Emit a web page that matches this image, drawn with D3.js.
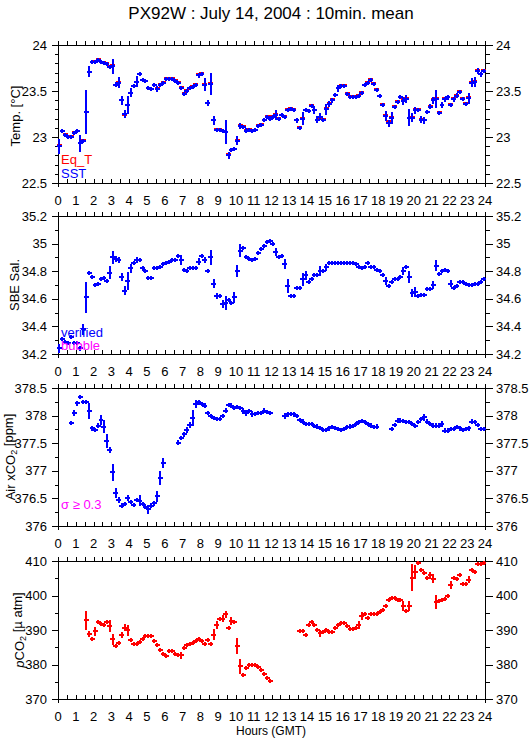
<!DOCTYPE html>
<html>
<head>
<meta charset="utf-8">
<script src="https://cdn.jsdelivr.net/npm/d3@7"></script>
<style>
body { margin: 0; background: #fff; }
svg text { font-family: "Liberation Sans", Arial, Helvetica, sans-serif; }
</style>
</head>
<body>
<div id="chart"></div>
<script>
// PX92W 10 min means, 144 bins per day (index i -> bin i of the day)
var title = "PX92W : July 14, 2004 : 10min. mean";

// Temperature (deg C)
var sst = [
  22.90,23.06,23.02,23.00,23.00,23.04,23.06,22.93,22.96,23.27,23.71,23.81,
  23.82,23.84,23.81,23.80,23.79,23.76,23.77,23.57,23.59,23.40,23.25,23.35,
  23.48,23.55,23.60,23.68,23.62,23.61,23.53,23.52,23.56,23.52,23.57,23.59,
  23.63,23.63,23.63,23.61,23.59,23.53,23.47,23.50,23.53,23.54,23.57,23.67,
  23.69,23.57,23.37,23.58,23.18,23.08,23.08,23.06,23.05,22.80,22.86,22.87,
  22.96,23.12,23.11,23.07,23.08,23.07,23.08,23.12,23.13,23.18,23.22,23.20,
  23.22,23.24,23.20,23.24,23.22,23.29,23.30,23.29,23.18,23.10,23.20,23.29,
  23.28,23.34,23.29,23.19,23.22,23.19,23.30,23.36,23.40,23.46,23.53,23.55,
  23.55,23.47,23.44,23.44,23.44,23.45,23.48,23.56,23.59,23.62,23.58,23.51,
  23.45,23.35,23.23,23.15,23.21,23.33,23.38,23.43,23.39,23.41,23.21,23.21,
  23.29,23.29,23.19,23.18,23.27,23.33,23.40,23.41,23.26,23.35,23.41,23.43,
  23.35,23.41,23.45,23.49,23.41,23.36,23.42,23.59,23.60,23.72,23.68,23.72
];
var sstSd = [
  0.08,0.02,0.02,0.02,0.015,0.015,0.015,0.09,0.02,0.24,0.06,0.01,
  0.01,0.01,0.01,0.01,0.01,0.015,0.08,0.03,0.06,0.05,0.045,0.1,
  0.05,0.015,0.06,0.01,0.01,0.01,0.01,0.015,0.01,0.035,0.015,0.01,
  0.01,0.01,0.01,0.01,0.015,0.02,0.015,0.015,0.01,0.01,0.015,0.03,
  0.015,0.07,0.035,0.12,0.05,0.015,0.015,0.015,0.13,0.035,0.02,0.015,
  0.05,0.035,0.015,0.03,0.015,0.015,0.015,0.015,0.02,0.02,0.015,0.02,
  0.015,0.05,0.02,0.015,0.015,0.02,0.015,0.02,0.03,0.025,0.07,0.015,
  0.015,0.02,0.045,0.04,0.04,0.02,0.06,0.03,0.025,0.015,0.04,0.015,
  0.02,0.02,0.015,0.01,0.01,0.015,0.02,0.015,0.015,0.015,0.02,0.015,
  0.015,0.025,0.055,0.04,0.065,0.02,0.025,0.02,0.045,0.045,0.09,0.05,
  0.035,0.02,0.035,0.035,0.02,0.03,0.04,0.1,0.02,0.035,0.03,0.03,
  0.02,0.03,0.03,0.015,0.015,0.02,0.06,0.05,0.055,0.03,0.03,0.015
];
var eqT = [
  22.91,23.07,23.03,23.01,23.01,23.05,23.07,22.94,22.97,23.27,23.71,23.82,
  23.83,23.85,23.81,23.81,23.80,23.77,23.78,23.57,23.60,23.40,23.24,23.35,
  23.48,23.55,23.60,23.68,23.62,23.61,23.53,23.52,23.57,23.53,23.58,23.60,
  23.64,23.64,23.64,23.62,23.60,23.54,23.48,23.51,23.53,23.55,23.58,23.68,
  23.70,23.58,23.37,23.59,23.18,23.09,23.09,23.06,23.05,22.81,22.86,22.87,
  22.97,23.13,23.12,23.08,23.09,23.08,23.08,23.13,23.14,23.19,23.23,23.21,
  23.23,23.25,23.21,23.24,23.23,23.30,23.31,23.30,23.18,23.11,23.21,23.29,
  23.28,23.35,23.29,23.19,23.21,23.20,23.31,23.37,23.41,23.46,23.53,23.56,
  23.56,23.48,23.45,23.45,23.44,23.46,23.49,23.56,23.60,23.63,23.59,23.52,
  23.45,23.36,23.24,23.17,23.22,23.34,23.39,23.44,23.41,23.42,23.21,23.22,
  23.30,23.30,23.20,23.19,23.27,23.34,23.41,23.42,23.27,23.35,23.42,23.44,
  23.36,23.42,23.46,23.50,23.42,23.37,23.43,23.60,23.61,23.73,23.68,23.73
];

// SBE salinity
var sal = [
  34.24,34.31,34.29,34.28,34.32,34.28,34.28,34.24,34.38,34.61,34.79,34.76,
  34.70,34.71,34.74,34.75,34.73,34.79,34.90,34.89,34.88,34.76,34.66,34.73,
  34.82,34.86,34.88,34.88,34.82,34.80,34.75,34.75,34.82,34.82,34.83,34.85,
  34.86,34.87,34.88,34.88,34.91,34.88,34.81,34.80,34.82,34.82,34.82,34.87,
  34.91,34.88,34.80,34.90,34.71,34.62,34.62,34.56,34.57,34.59,34.57,34.61,
  34.80,34.95,34.97,34.90,34.89,34.88,34.89,34.93,34.96,34.98,35.01,35.02,
  35.00,34.94,34.90,34.91,34.85,34.69,34.62,34.62,34.68,34.68,34.74,34.77,
  34.72,34.74,34.77,34.77,34.80,34.80,34.83,34.86,34.86,34.86,34.86,34.86,
  34.86,34.86,34.86,34.86,34.85,34.83,34.82,34.83,34.86,34.83,34.83,34.81,
  34.80,34.77,34.73,34.69,34.72,34.74,34.74,34.76,34.80,34.83,34.76,34.64,
  34.65,34.62,34.63,34.63,34.67,34.67,34.70,34.84,34.78,34.80,34.81,34.80,
  34.71,34.68,34.69,34.72,34.72,34.71,34.70,34.70,34.71,34.71,34.72,34.74
];
var salSd = [
  0.03,0.015,0.01,0.015,0.01,0.01,0.01,0.02,0.04,0.11,0.015,0.01,
  0.01,0.01,0.01,0.01,0.01,0.05,0.045,0.02,0.02,0.03,0.03,0.065,
  0.035,0.01,0.02,0.01,0.02,0.01,0.01,0.01,0.01,0.01,0.01,0.01,
  0.01,0.01,0.01,0.01,0.015,0.035,0.01,0.01,0.01,0.01,0.01,0.025,
  0.01,0.02,0.01,0.055,0.035,0.02,0.01,0.03,0.05,0.01,0.01,0.04,
  0.045,0.045,0.01,0.01,0.01,0.01,0.01,0.01,0.01,0.01,0.01,0.01,
  0.01,0.03,0.01,0.01,0.035,0.05,0.01,0.01,0.015,0.01,0.045,0.035,
  0.01,0.01,0.01,0.01,0.035,0.015,0.025,0.01,0.005,0.005,0.005,0.005,
  0.005,0.005,0.005,0.005,0.01,0.01,0.01,0.01,0.015,0.01,0.005,0.01,
  0.01,0.01,0.03,0.01,0.015,0.01,0.01,0.01,0.03,0.015,0.045,0.03,
  0.035,0.01,0.01,0.01,0.01,0.01,0.03,0.04,0.015,0.01,0.01,0.015,
  0.025,0.01,0.01,0.01,0.01,0.01,0.01,0.01,0.01,0.01,0.01,0.01
];

// Air xCO2 (ppm)
var xco2 = [
  null,null,null,null,377.86,378.05,378.22,378.34,378.25,378.24,378.08,377.77,
  377.74,377.82,377.92,377.80,377.54,377.38,376.97,376.59,376.47,376.37,376.40,376.51,
  376.44,376.38,376.47,376.46,376.40,376.35,376.30,376.37,376.41,376.54,376.87,377.14,
  null,null,null,null,377.51,377.59,377.66,377.74,377.83,377.96,378.21,378.24,
  378.21,378.18,378.05,378.00,377.96,377.94,377.94,377.99,378.09,378.19,378.18,378.14,
  378.16,378.13,378.08,378.05,378.08,378.03,378.03,378.05,378.05,378.09,378.06,378.05,
  null,null,null,null,377.99,378.02,378.03,378.02,377.99,377.92,377.89,377.85,
  377.85,377.85,377.82,377.80,377.78,377.74,377.74,377.77,377.79,377.78,377.76,377.74,
  377.76,377.79,377.80,377.82,377.85,377.89,377.91,377.88,377.85,377.82,377.79,377.80,
  null,null,null,null,377.76,377.83,377.91,377.91,377.91,377.88,377.88,377.85,
  377.82,377.88,377.94,377.97,377.89,377.85,377.82,377.82,377.82,377.85,377.73,377.73,
  377.76,377.76,377.79,377.77,377.74,377.76,377.77,377.89,377.88,377.83,377.76,377.76
];
var xco2Sd = [
  0,0,0,0,0.03,0.06,0.05,0.03,0.03,0.03,0.15,0.04,
  0.04,0.04,0.09,0.12,0.12,0.05,0.15,0.09,0.05,0.04,0.04,0.05,
  0.04,0.04,0.04,0.1,0.04,0.04,0.08,0.04,0.04,0.1,0.13,0.09,
  0,0,0,0,0.05,0.04,0.04,0.05,0.05,0.14,0.07,0.04,
  0.04,0.05,0.04,0.03,0.03,0.04,0.04,0.04,0.04,0.04,0.04,0.03,
  0.04,0.03,0.05,0.06,0.04,0.05,0.04,0.04,0.04,0.04,0.04,0.03,
  0,0,0,0,0.05,0.04,0.03,0.04,0.03,0.03,0.04,0.03,
  0.03,0.03,0.03,0.04,0.03,0.04,0.04,0.04,0.04,0.03,0.04,0.04,
  0.04,0.03,0.04,0.03,0.04,0.03,0.03,0.04,0.03,0.04,0.04,0.04,
  0,0,0,0,0.04,0.04,0.04,0.04,0.03,0.04,0.04,0.04,
  0.03,0.04,0.04,0.06,0.05,0.04,0.04,0.04,0.05,0.05,0.04,0.04,
  0.04,0.04,0.03,0.04,0.04,0.03,0.04,0.05,0.04,0.04,0.04,0.04
];

// pCO2 (uatm)
var pco2 = [
  null,null,null,null,null,null,null,null,null,392.8,388.9,387.3,
  389.6,392.3,391.6,391.4,392.3,391.1,387.3,385.3,386.3,388.5,390.7,389.9,
  387.0,385.8,385.8,386.5,387.5,388.2,388.2,388.2,386.8,385.6,384.3,383.1,
  382.4,383.8,383.8,383.1,382.7,382.7,384.8,385.6,385.8,386.2,386.8,387.3,
  386.7,386.0,387.2,385.8,388.6,391.5,393.1,393.3,394.5,390.7,392.6,392.3,
  385.3,379.5,377.1,379.0,380.0,380.0,379.8,379.3,378.3,377.3,376.2,375.2,
  null,null,null,null,null,null,null,null,null,389.7,389.7,388.5,
  391.4,392.3,391.5,390.1,389.1,389.4,390.1,389.4,389.4,390.7,391.5,392.0,
  392.0,391.1,390.2,390.4,390.5,391.4,394.0,394.7,393.6,394.7,394.5,394.7,
  395.2,395.7,396.9,398.6,399.4,399.4,398.8,398.8,396.9,395.4,396.9,405.1,
  406.8,409.5,407.5,406.6,405.1,405.8,404.9,398.1,398.3,398.6,399.1,400.0,
  403.1,405.2,404.9,405.8,403.4,403.4,404.6,407.3,406.8,409.0,409.0,409.5
];
var pco2Sd = [
  0,0,0,0,0,0,0,0,0,2.8,0.8,0.4,
  1.2,0.6,0.4,0.4,0.4,1.7,1.6,0.5,0.5,0.8,0.9,1.5,
  0.6,0.4,0.4,0.4,0.4,0.4,0.4,0.4,0.5,0.5,0.5,0.4,
  0.5,0.4,0.4,0.4,0.5,1.0,0.5,0.4,0.4,0.4,0.4,0.4,
  0.4,0.4,0.4,0.5,1.6,1.2,0.6,1.1,1.0,0.5,1.2,0.6,
  2.3,2.2,0.4,0.6,0.4,0.4,0.4,0.4,0.5,0.4,0.4,0.4,
  0,0,0,0,0,0,0,0,0,0.4,0.4,0.6,
  0.5,0.5,0.5,0.4,1.0,0.6,0.5,0.4,0.4,0.4,0.4,0.4,
  0.4,0.4,0.4,0.4,0.4,1.2,1.1,0.5,0.5,0.4,0.4,0.4,
  0.4,0.5,0.6,0.6,0.4,0.4,0.4,0.4,1.4,0.4,1.5,3.9,
  2.0,0.5,0.5,0.5,0.4,1.0,1.4,2.1,0.6,0.5,0.5,0.4,
  1.1,0.4,0.5,0.5,0.4,0.4,1.1,0.6,0.6,0.4,0.4,0.4
];

// bin centre times (hours GMT)
var hours = d3.range(144).map(i => (i + 0.5) / 6);

// SVG dimensions
var svgWidth = 529;
var svgHeight = 739;
var plotLeft = 58;
var plotRight = 485;
var panelTops = [45, 216, 388, 561];
var panelHeight = 138;

var svg = d3.select("#chart")
    .append("svg")
    .attr("width", svgWidth)
    .attr("height", svgHeight);

svg.append("text")
    .attr("x", 271)
    .attr("y", 19)
    .attr("text-anchor", "middle")
    .attr("font-size", 17)
    .text(title);

var xScale = d3.scaleLinear().domain([0, 24]).range([plotLeft, plotRight]);
var halfBar = 0.14; // hours

function makePanel(k, domain, step, minorStep) {
    var top = panelTops[k];
    var bottom = top + panelHeight;
    var y = d3.scaleLinear().domain(domain).range([bottom, top]);
    var g = svg.append("g").attr("shape-rendering", "crispEdges");

    // frame
    g.append("line").attr("x1", plotLeft).attr("x2", plotRight).attr("y1", top + 0.5).attr("y2", top + 0.5).attr("stroke", "#000");
    g.append("line").attr("x1", plotLeft).attr("x2", plotRight).attr("y1", bottom + 0.5).attr("y2", bottom + 0.5).attr("stroke", "#000");
    [plotLeft, plotRight].forEach(function(px) {
        g.append("line").attr("x1", px + 0.5).attr("x2", px + 0.5).attr("y1", top).attr("y2", bottom + 4).attr("stroke", "#000");
    });

    // x ticks every half hour, pointing up
    var xt = d3.range(0, 24.01, 0.5);
    [top, bottom].forEach(function(yy) {
        g.selectAll(null).data(xt).enter().append("line")
            .attr("x1", d => Math.round(xScale(d)) + 0.5)
            .attr("x2", d => Math.round(xScale(d)) + 0.5)
            .attr("y1", yy - 4)
            .attr("y2", yy)
            .attr("stroke", "#000");
    });
    g.selectAll(null).data(d3.range(0, 25)).enter().append("text")
        .attr("x", d => xScale(d))
        .attr("y", bottom + 22)
        .attr("text-anchor", "middle")
        .attr("font-size", 13)
        .text(d => d);

    // y ticks
    var major = d3.range(domain[0], domain[1] + step / 100, step);
    var minor = d3.range(domain[0], domain[1] + minorStep / 100, minorStep);
    var fmt = d3.format("~g");
    [[plotLeft, -1], [plotRight, 1]].forEach(function(side) {
        g.selectAll(null).data(minor).enter().append("line")
            .attr("x1", side[0] + 0.5)
            .attr("x2", side[0] + 0.5 + side[1] * 4)
            .attr("y1", d => Math.round(y(d)) + 0.5)
            .attr("y2", d => Math.round(y(d)) + 0.5)
            .attr("stroke", "#000");
        g.selectAll(null).data(major).enter().append("line")
            .attr("x1", side[0] + 0.5)
            .attr("x2", side[0] + 0.5 + side[1] * 7)
            .attr("y1", d => Math.round(y(d)) + 0.5)
            .attr("y2", d => Math.round(y(d)) + 0.5)
            .attr("stroke", "#000");
        g.selectAll(null).data(major).enter().append("text")
            .attr("x", side[0] + side[1] * 11)
            .attr("y", d => y(d))
            .attr("dy", "0.36em")
            .attr("text-anchor", side[1] < 0 ? "end" : "start")
            .attr("font-size", 13)
            .text(d => fmt(+d.toFixed(2)));
    });
    return y;
}

function crosses(y, vals, sds, color) {
    var pts = hours.map((h, i) => ({h: h, v: vals[i], s: sds ? sds[i] : 0}))
        .filter(d => d.v != null);
    var c = svg.append("g")
        .attr("stroke", color)
        .attr("stroke-width", 2)
        .attr("shape-rendering", "crispEdges");
    c.selectAll(null).data(pts).enter().append("line")
        .attr("x1", d => xScale(d.h - halfBar))
        .attr("x2", d => xScale(d.h + halfBar))
        .attr("y1", d => Math.round(y(d.v)))
        .attr("y2", d => Math.round(y(d.v)));
    if (sds) {
        c.selectAll(null).data(pts).enter().append("line")
            .attr("x1", d => Math.round(xScale(d.h)))
            .attr("x2", d => Math.round(xScale(d.h)))
            .attr("y1", d => Math.min(y(d.v + d.s), y(d.v) - 2))
            .attr("y2", d => Math.max(y(d.v - d.s), y(d.v) + 2));
    }
}

function yTitle(cx, cy) {
    return svg.append("text")
        .attr("transform", "translate(" + cx + "," + cy + ") rotate(-90)")
        .attr("text-anchor", "middle")
        .attr("dy", "0.36em")
        .attr("font-size", 13);
}

// Panel 1: temperature
var yT = makePanel(0, [22.5, 24], 0.5, 0.1);
crosses(yT, eqT, null, "#ff0000");
crosses(yT, sst, sstSd, "#0000ff");
yTitle(15, 116).text("Temp. [°C]");
svg.append("text").attr("x", 61).attr("y", 164).attr("font-size", 13).attr("fill", "#ff0000").text("Eq_T");
svg.append("text").attr("x", 61).attr("y", 178).attr("font-size", 13).attr("fill", "#0000ff").text("SST");

// Panel 2: salinity
var yS = makePanel(1, [34.2, 35.2], 0.2, 0.1);
crosses(yS, sal, salSd, "#0000ff");
yTitle(14, 285).text("SBE Sal.");
svg.append("text").attr("x", 61).attr("y", 337).attr("font-size", 13).attr("fill", "#0000ff").text("verified");
svg.append("text").attr("x", 61).attr("y", 350).attr("font-size", 13).attr("fill", "#ff00ff").text("bubble");

// Panel 3: air xCO2
var yX = makePanel(2, [376, 378.5], 0.5, 0.25);
crosses(yX, xco2, xco2Sd, "#0000ff");
var t3 = yTitle(10, 457);
t3.append("tspan").text("Air xCO");
t3.append("tspan").attr("font-size", 9).attr("dy", "0.3em").text("2");
t3.append("tspan").attr("dy", "-0.3em").text(" [ppm]");
svg.append("text").attr("x", 61).attr("y", 509).attr("font-size", 13).attr("fill", "#ff00ff").text("σ ≥ 0.3");

// Panel 4: pCO2
var yP = makePanel(3, [370, 410], 10, 5);
crosses(yP, pco2, pco2Sd, "#ff0000");
var t4 = yTitle(19, 630);
t4.append("tspan").attr("font-style", "italic").text("p");
t4.append("tspan").text("CO");
t4.append("tspan").attr("font-size", 9).attr("dy", "0.3em").text("2");
t4.append("tspan").attr("dy", "-0.3em").text(" [µ atm]");

svg.append("text")
    .attr("x", 271)
    .attr("y", 735)
    .attr("text-anchor", "middle")
    .attr("font-size", 12)
    .text("Hours (GMT)");
</script>
</body>
</html>
